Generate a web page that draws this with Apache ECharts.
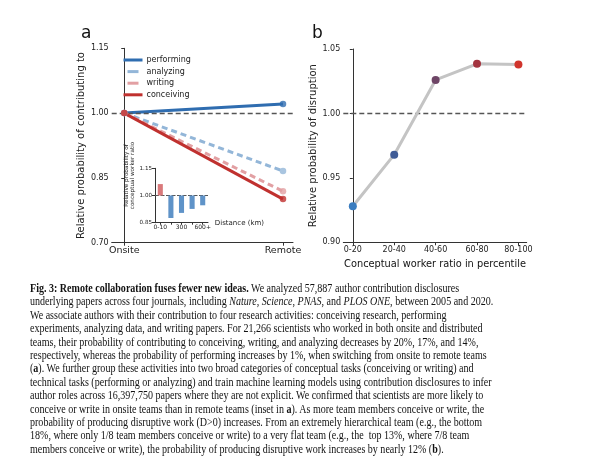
<!DOCTYPE html>
<html>
<head>
<meta charset="utf-8">
<script src="https://cdn.jsdelivr.net/npm/echarts@6/dist/echarts.min.js"></script>
<style>
  html, body { margin: 0; padding: 0; background: #fff; }
  #wrap { position: relative; width: 600px; height: 467px; overflow: hidden; }
  #chart { position: absolute; left: 0; top: 0; width: 600px; height: 467px; }
  #caption { position: absolute; left: 30px; top: 282px; width: 720px;
    font-family: "Liberation Serif", "DejaVu Serif", serif; font-size: 12.6px; line-height: 13.4px;
    color: #111; white-space: pre; transform: scaleX(0.797); transform-origin: 0 0; }
</style>
</head>
<body>
<div id="wrap">
  <div id="chart"></div>
  <div id="caption"><b>Fig. 3: Remote collaboration fuses fewer new ideas.</b> We analyzed 57,887 author contribution disclosures
underlying papers across four journals, including <i>Nature</i>, <i>Science</i>, <i>PNAS</i>, and <i>PLOS ONE</i>, between 2005 and 2020.
We associate authors with their contribution to four research activities: conceiving research, performing
experiments, analyzing data, and writing papers. For 21,266 scientists who worked in both onsite and distributed
teams, their probability of contributing to conceiving, writing, and analyzing decreases by 20%, 17%, and 14%,
respectively, whereas the probability of performing increases by 1%, when switching from onsite to remote teams
(<b>a</b>). We further group these activities into two broad categories of conceptual tasks (conceiving or writing) and
technical tasks (performing or analyzing) and train machine learning models using contribution disclosures to infer
author roles across 16,397,750 papers where they are not explicit. We confirmed that scientists are more likely to
conceive or write in onsite teams than in remote teams (inset in <b>a</b>). As more team members conceive or write, the
probability of producing disruptive work (D&gt;0) increases. From an extremely hierarchical team (e.g., the bottom
18%, where only 1/8 team members conceive or write) to a very flat team (e.g., the  top 13%, where 7/8 team
members conceive or write), the probability of producing disruptive work increases by nearly 12% (<b>b</b>).</div>
</div>
<script>
// ---- data ----
const conditions = ['Onsite', 'Remote'];
const performing = [1.00, 1.021];
const analyzing  = [1.00, 0.866];
const writing    = [1.00, 0.819];
const conceiving = [1.00, 0.801];
const ticksA = [0.70, 0.85, 1.00, 1.15];

const distanceLabels = ['0-10', '', '300', '', '600+'];
const insetRatio = [1.063, 0.876, 0.904, 0.926, 0.946];
const ticksInset = [0.85, 1.00, 1.15];

const percentileBins = ['0-20', '20-40', '40-60', '60-80', '80-100'];
const disruption = [0.928, 0.968, 1.026, 1.0385, 1.038];
const ticksB = [0.90, 0.95, 1.00, 1.05];

// ---- styles ----
const FONT = 'DejaVu Sans';
const colA = { performing: '#2f6db0', analyzing: '#93b6d8', writing: '#e2a0a3', conceiving: '#c0312f' };
const binColors = ['#3b7dc0', '#3f5b95', '#6e4566', '#a3343f', '#d0342c'];
const axisCol = '#333';

const chart = echarts.init(document.getElementById('chart'), null, { renderer: 'canvas' });

function pts(arr) { return arr.map((v, i) => [i, v]); }

const lineDefs = [
  ['performing', performing, 'solid'],
  ['analyzing', analyzing, [6, 4]],
  ['writing', writing, [6, 4]],
  ['conceiving', conceiving, 'solid']
];

const series = [];
lineDefs.forEach(([name, arr, type], k) => {
  series.push({
    name: name, type: 'line', xAxisIndex: 0, yAxisIndex: 0,
    data: pts(arr), symbol: 'none', z: 3 + k,
    lineStyle: { color: colA[name], width: 3, type: type },
    itemStyle: { color: colA[name] },
    markLine: k === 0 ? {
      silent: true, symbol: 'none', label: { show: false },
      lineStyle: { color: '#555', width: 1.3, type: [5, 3] },
      data: [{ yAxis: 1.0 }]
    } : undefined
  });
});
lineDefs.forEach(([name, arr], k) => {
  series.push({
    name: name + ' pts', type: 'scatter', xAxisIndex: 0, yAxisIndex: 0,
    data: pts(arr), symbolSize: 6.5, z: 10 + k,
    itemStyle: { color: colA[name] }
  });
});

// inset stacked bars (transparent base, visible deviation from 1.00)
series.push({
  type: 'bar', xAxisIndex: 1, yAxisIndex: 1, stack: 'inset', barWidth: '48%',
  data: insetRatio.map(v => Math.min(v, 1)),
  itemStyle: { color: 'rgba(0,0,0,0)' }, silent: true, z: 20
});
series.push({
  type: 'bar', xAxisIndex: 1, yAxisIndex: 1, stack: 'inset', barWidth: '48%',
  data: insetRatio.map(v => ({ value: Math.abs(v - 1), itemStyle: { color: v > 1 ? '#d9797b' : '#5f93c8' } })),
  z: 20,
  markLine: {
    silent: true, symbol: 'none', label: { show: false },
    lineStyle: { color: '#555', width: 1, type: [4, 1.5] },
    data: [{ yAxis: 1.0 }]
  }
});

// panel b
series.push({
  type: 'line', xAxisIndex: 2, yAxisIndex: 2,
  data: pts(disruption), symbol: 'circle', symbolSize: 8,
  lineStyle: { color: '#c4c4c4', width: 3 },
  itemStyle: { color: p => binColors[p.dataIndex] },
  z: 5,
  markLine: {
    silent: true, symbol: 'none', label: { show: false },
    lineStyle: { color: '#555', width: 1.3, type: [5, 3] },
    data: [{ yAxis: 1.0 }]
  }
});

function yAxisBase(min, max, ticks, fs, name, gap, nameFs) {
  return {
    type: 'value', min: min, max: max,
    splitLine: { show: false },
    axisLine: { show: true, lineStyle: { color: axisCol, width: 1 } },
    axisTick: { show: true, length: 3, customValues: ticks, lineStyle: { color: axisCol } },
    axisLabel: { customValues: ticks, formatter: v => v.toFixed(2), fontFamily: FONT, fontSize: fs, color: '#222', margin: 3 },
    name: name, nameLocation: 'middle', nameGap: gap, nameRotate: 90,
    nameTextStyle: { fontFamily: FONT, fontSize: nameFs, color: '#222', lineHeight: nameFs * 1.12 }
  };
}

const dashLegend = { type: [11, 20], dashOffset: -4, width: 3 };

const option = {
  animation: false,
  backgroundColor: '#fff',
  title: [
    { text: 'a', left: 76, top: 20, textStyle: { fontFamily: FONT, fontSize: 17, fontWeight: 'normal', color: '#111' } },
    { text: 'b', left: 307, top: 20, textStyle: { fontFamily: FONT, fontSize: 17, fontWeight: 'normal', color: '#111' } }
  ],
  legend: {
    data: [
      { name: 'performing' },
      { name: 'analyzing', lineStyle: dashLegend },
      { name: 'writing', lineStyle: dashLegend },
      { name: 'conceiving' }
    ],
    orient: 'vertical', left: 117, top: 51,
    itemWidth: 19, itemHeight: 8, itemGap: 3.6,
    itemStyle: { opacity: 0 },
    lineStyle: { width: 3 },
    textStyle: { fontFamily: FONT, fontSize: 8, color: '#222', padding: [0, 0, 0, -1] }
  },
  grid: [
    { left: 111.7, right: 307, top: 48.3, bottom: 224.3 },
    { left: 155, right: 392, top: 168.3, bottom: 244.3 },
    { left: 343.3, right: 73.3, top: 49, bottom: 224.7 }
  ],
  xAxis: [
    {
      gridIndex: 0, type: 'value', min: -0.079, max: 1.063,
      splitLine: { show: false },
      axisLine: { show: true, lineStyle: { color: axisCol, width: 1 } },
      axisTick: { show: true, length: 3, customValues: [0, 1], lineStyle: { color: axisCol } },
      axisLabel: { customValues: [0, 1], formatter: v => conditions[Math.round(v)], fontFamily: FONT, fontSize: 9.5, color: '#222', margin: 3 }
    },
    {
      gridIndex: 1, type: 'category', data: distanceLabels,
      axisLine: { show: true, lineStyle: { color: axisCol, width: 1 } },
      axisTick: { show: true, length: 2, alignWithLabel: true, interval: 0, lineStyle: { color: axisCol } },
      axisLabel: { interval: 0, fontFamily: FONT, fontSize: 6, color: '#222', margin: 2 },
      name: 'Distance (km)', nameLocation: 'end', nameGap: 5,
      nameTextStyle: { fontFamily: FONT, fontSize: 7, color: '#222', verticalAlign: 'middle' }
    },
    {
      gridIndex: 2, type: 'value', min: -0.23, max: 4.2,
      splitLine: { show: false },
      axisLine: { show: true, lineStyle: { color: axisCol, width: 1 } },
      axisTick: { show: true, length: 3, customValues: [0, 1, 2, 3, 4], lineStyle: { color: axisCol } },
      axisLabel: { customValues: [0, 1, 2, 3, 4], formatter: v => percentileBins[Math.round(v)], fontFamily: FONT, fontSize: 8, color: '#222', margin: 4 },
      name: 'Conceptual worker ratio in percentile', nameLocation: 'middle', nameGap: 17,
      nameTextStyle: { fontFamily: FONT, fontSize: 9.8, color: '#111' }
    }
  ],
  yAxis: [
    Object.assign(yAxisBase(0.70, 1.15, ticksA, 8, 'Relative probability of contributing to', 23, 10), { gridIndex: 0 }),
    (function () {
      const ax = Object.assign(yAxisBase(0.85, 1.15, ticksInset, 5.6, 'Relative probability of\nconceptual worker ratio', 17, 5.7), { gridIndex: 1 });
      ax.nameTextStyle.padding = [0, 0, 0, 40];
      return ax;
    })(),
    Object.assign(yAxisBase(0.90, 1.05, ticksB, 8, 'Relative probability of disruption', 24, 10), { gridIndex: 2 })
  ],
  series: series
};

chart.setOption(option);
</script>
</body>
</html>
